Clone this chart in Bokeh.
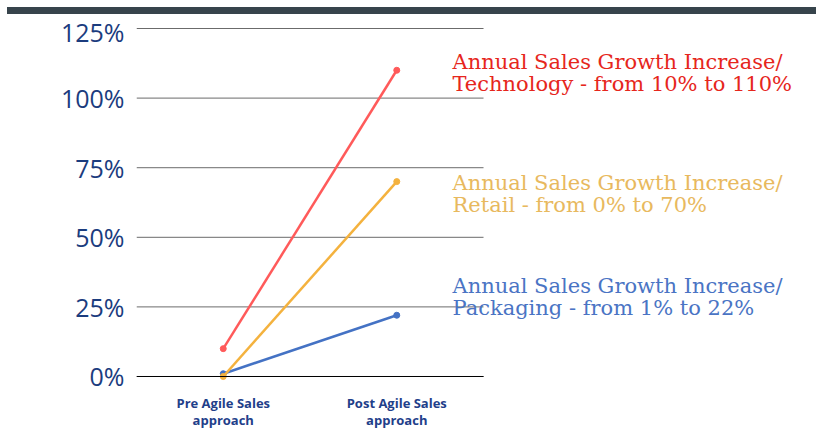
from bokeh.plotting import figure
from bokeh.models import Label, Div, FixedTicker, NumeralTickFormatter, Range1d
from bokeh.layouts import column
from bokeh.embed import file_html
from bokeh.resources import INLINE

categories = ["Pre Agile Sales\napproach", "Post Agile Sales\napproach"]
technology = [0.10, 1.10]
retail = [0.00, 0.70]
packaging = [0.01, 0.22]
y_ticks = [0, 0.25, 0.5, 0.75, 1.0, 1.25]
annotations = [
    "Annual Sales Growth Increase/\nTechnology - from 10% to 110%",
    "Annual Sales Growth Increase/\nRetail - from 0% to 70%",
    "Annual Sales Growth Increase/\nPackaging - from 1% to 22%",
]

line_colors = ["#ff5a5a", "#f4b23e", "#4472c4"]
text_colors = ["#e6261c", "#e8b95e", "#4a74c4"]
label_y = [1.09, 0.655, 0.285]

# category positions on a numeric axis (one unit per category)
x_pos = [i + 0.5 for i in range(len(categories))]
n_cat = len(categories)

bar = Div(width=809, height=7, margin=(7, 0, 0, 7),
          styles={"background-color": "#37444c"})

p = figure(x_range=Range1d(0, 3.896), y_range=Range1d(-0.194, 1.2716),
           width=816, height=416,
           output_backend="svg", toolbar_location=None,
           min_border_left=136, min_border_right=4, min_border_top=8,
           min_border_bottom=0, margin=(0, 0, 0, 0))
p.outline_line_color = None
p.grid.grid_line_color = None

# horizontal grid lines spanning the category area only
p.segment(x0=[0] * len(y_ticks), x1=[n_cat] * len(y_ticks), y0=y_ticks, y1=y_ticks,
          line_color="#6b6b6b", line_width=1)

p.yaxis.ticker = FixedTicker(ticks=y_ticks)
p.yaxis.formatter = NumeralTickFormatter(format="0%")
p.yaxis.axis_line_color = None
p.yaxis.major_tick_line_color = None
p.yaxis.minor_tick_line_color = None
p.yaxis.major_tick_out = 0
p.yaxis.major_tick_in = 0
p.yaxis.major_label_text_font = "Open Sans"
p.yaxis.major_label_text_font_size = "25px"
p.yaxis.major_label_text_color = "#1b3c7e"
p.yaxis.major_label_standoff = 12

p.xaxis.fixed_location = 0
p.xaxis.bounds = (0, n_cat)
p.xaxis.ticker = FixedTicker(ticks=x_pos)
p.xaxis.major_label_overrides = {x: c for x, c in zip(x_pos, categories)}
p.xaxis.axis_line_color = "#000000"
p.xaxis.axis_line_width = 1
p.xaxis.major_tick_line_color = None
p.xaxis.minor_tick_line_color = None
p.xaxis.major_tick_out = 0
p.xaxis.major_tick_in = 0
p.xaxis.major_label_text_font = "Open Sans"
p.xaxis.major_label_text_font_size = "13px"
p.xaxis.major_label_text_font_style = "bold"
p.xaxis.major_label_text_color = "#1f408a"
p.xaxis.major_label_text_line_height = 0.9
p.xaxis.major_label_standoff = 18

for idx in [2, 1, 0]:
    vals = [technology, retail, packaging][idx]
    c = line_colors[idx]
    p.line(x_pos, vals, line_color=c, line_width=2.5)
    p.scatter(x_pos, vals, size=6, fill_color=c, line_color=c)

for txt, c, yv in zip(annotations, text_colors, label_y):
    p.add_layout(Label(x=1.821, y=yv, text=txt, text_color=c,
                       text_font="DejaVu Serif", text_font_size="21px",
                       text_baseline="middle", text_align="left",
                       text_line_height=0.92))

layout = column(bar, p, spacing=0)
open("out.html", "w").write(file_html(layout, INLINE))
